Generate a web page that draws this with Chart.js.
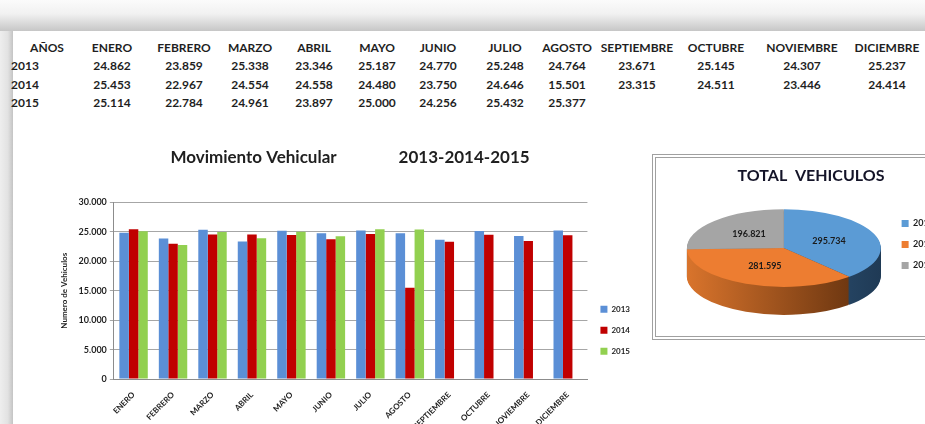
<!DOCTYPE html>
<html>
<head>
<meta charset="utf-8">
<script src="https://cdn.jsdelivr.net/npm/chart.js@4.4.1/dist/chart.umd.min.js"></script>
<style>
  html, body { margin:0; }
  body { width:925px; height:424px; overflow:hidden; background:#fff; position:relative; font-family:Lato, "Liberation Sans", sans-serif; }
  #frameTop { position:absolute; left:0; top:0; width:925px; height:31px;
    background:linear-gradient(to bottom,#fbfbfb 0%,#f1f1f1 45%,#d6d6d6 80%,#c6c6c6 100%); }
  #frameLeft { position:absolute; left:0; top:31px; width:13px; height:393px;
    background:linear-gradient(to right,#eeeeee 0%,#e2e2e2 60%,#c4c4c4 100%); }
  .cell { position:absolute; font-size:12px; font-weight:bold; color:#1f1f1f; white-space:nowrap; transform:translate(-50%,-50%); }
  .yr { transform:translate(0,-50%); }
  #barBox { position:absolute; left:40px; top:130px; width:600px; height:304px; }
  #pieFrame { position:absolute; left:652px; top:154px; width:400px; height:186px;
    border-top:4px double #a0a0a0; border-left:4px double #a0a0a0; border-bottom:4px double #a0a0a0;
    box-sizing:border-box; background:#fff; }
  #pieBox { position:absolute; left:656px; top:158px; width:288px; height:179px; }
</style>
</head>
<body>
<div id="frameTop"></div>
<div id="frameLeft"></div>
<div id="table"></div>
<div id="barBox"><canvas id="barChart"></canvas></div>
<div id="pieFrame"></div>
<div id="pieBox"><canvas id="pieChart"></canvas></div>

<script>
// datos
var meses = ['ENERO','FEBRERO','MARZO','ABRIL','MAYO','JUNIO','JULIO','AGOSTO','SEPTIEMBRE','OCTUBRE','NOVIEMBRE','DICIEMBRE'];
var anios = ['2013','2014','2015'];
var datos2013 = [24862,23859,25338,23346,25187,24770,25248,24764,23671,25145,24307,25237];
var datos2014 = [25453,22967,24554,24558,24480,23750,24646,15501,23315,24511,23446,24414];
var datos2015 = [25114,22784,24961,23897,25000,24256,25432,25377,null,null,null,null];
var totales = [295734,281595,196821];

// formato 24.862
var fmt = function(v){ return String(v).replace(/\B(?=(\d{3})+(?!\d))/g, '.'); };

// tabla de arriba
var colX = [112,184,250,314,377,438,505,567,637,716,802,887];
var rowY = [47,65,84,102];
var tabla = document.getElementById('table');
var addCell = function(txt, x, y, cls){
  var d = document.createElement('div');
  d.className = 'cell' + (cls ? ' ' + cls : '');
  d.textContent = txt;
  d.style.left = x + 'px';
  d.style.top = y + 'px';
  tabla.appendChild(d);
};
addCell('AÑOS', 47, rowY[0]);
meses.forEach(function(m, i){ addCell(m, colX[i], rowY[0]); });
[datos2013, datos2014, datos2015].forEach(function(serie, r){
  addCell(anios[r], 11, rowY[r+1], 'yr');
  serie.forEach(function(v, i){ if (v !== null) addCell(fmt(v), colX[i], rowY[r+1]); });
});

var fuente = 'Lato, "Liberation Sans", sans-serif';

// grafico de barras
const barChartId = document.getElementById('barChart');
new Chart(barChartId, {
  type: 'bar',
  data: {
    labels: meses,
    datasets: [
      { label: anios[0], data: datos2013, backgroundColor: '#5b8fd6' },
      { label: anios[1], data: datos2014, backgroundColor: '#c00000' },
      { label: anios[2], data: datos2015, backgroundColor: '#92d050' }
    ]
  },
  options: {
    responsive: true,
    maintainAspectRatio: false,
    animation: false,
    layout: { padding: { left: 20, right: 0, top: 0, bottom: 0 } },
    datasets: { bar: { categoryPercentage: 0.72, barPercentage: 1 } },
    plugins: {
      title: {
        display: true,
        text: 'Movimiento Vehicular               2013-2014-2015',
        color: '#1f1f1f',
        font: { family: fuente, size: 17, weight: 'bold' },
        padding: { top: 17, bottom: 35 }
      },
      legend: {
        position: 'right',
        title: { display: true, text: '', padding: { top: 82, bottom: 0 } },
        labels: {
          boxWidth: 7, boxHeight: 7, padding: 13, color: '#1f1f1f',
          font: { family: fuente, size: 8, weight: 'bold' }
        }
      },
      tooltip: { enabled: false }
    },
    scales: {
      x: {
        grid: { display: false },
        border: { display: true, color: '#8c8c8c' },
        ticks: { maxRotation: 45, minRotation: 45, color: '#1f1f1f', autoSkip: false,
          font: { family: fuente, size: 8, weight: 'bold' } }
      },
      y: {
        min: 0, max: 30000,
        grid: { color: '#a6a6a6', tickLength: 4 },
        border: { display: true, color: '#8c8c8c' },
        ticks: { stepSize: 5000, color: '#1f1f1f', callback: function(v){ return fmt(v); },
          font: { family: fuente, size: 9, weight: 'bold' } },
        title: { display: true, text: 'Numero de Vehiculos', color: '#1f1f1f',
          font: { family: fuente, size: 8, weight: 'bold' }, padding: { top: 0, bottom: 6 } }
      }
    }
  }
});

// torta 3D
var TILT = 0.4;
var DEPTH = 28;
var coloresTorta = ['#5b9bd5','#ed7d31','#a5a5a5'];

var sideFill = function(ctx, x0, x1, a, b){
  var g = ctx.createLinearGradient(x0, 0, x1, 0);
  g.addColorStop(0, a);
  g.addColorStop(1, b);
  return g;
};

var pie3d = {
  id: 'pie3d',
  beforeDatasetsDraw: function(chart){
    var arcs = chart.getDatasetMeta(0).data;
    if (!arcs.length) return;
    var ctx = chart.ctx, cx = arcs[0].x, cy = arcs[0].y, r = arcs[0].outerRadius;
    var lados = [
      sideFill(ctx, cx - r, cx + r, '#3f6f9c', '#1f3a55'),
      sideFill(ctx, cx - r, cx + r, '#d9742c', '#5a2c0c'),
      sideFill(ctx, cx - r, cx + r, '#8a8a8a', '#555555')
    ];
    for (var d = DEPTH; d > 0; d--) {
      ctx.save();
      ctx.translate(0, d - DEPTH / 2);
      ctx.translate(cx, cy); ctx.scale(1, TILT); ctx.translate(-cx, -cy);
      arcs.forEach(function(a, i){
        var guardado = a.options;
        a.options = Object.assign({}, guardado, { backgroundColor: lados[i], borderWidth: 0 });
        a.draw(ctx);
        a.options = guardado;
      });
      ctx.restore();
    }
    ctx.save();
    ctx.translate(0, -DEPTH / 2);
    ctx.translate(cx, cy); ctx.scale(1, TILT); ctx.translate(-cx, -cy);
  },
  afterDatasetsDraw: function(chart){
    var arcs = chart.getDatasetMeta(0).data;
    if (!arcs.length) return;
    var ctx = chart.ctx;
    ctx.restore();
    var cx = arcs[0].x, cy = arcs[0].y;
    ctx.save();
    ctx.font = 'bold 9px ' + fuente;
    ctx.fillStyle = '#1a1a1a';
    ctx.textAlign = 'center';
    ctx.textBaseline = 'middle';
    arcs.forEach(function(a, i){
      var p = a.tooltipPosition();
      ctx.fillText(fmt(totales[i]), p.x, cy + (p.y - cy) * TILT - DEPTH / 2);
    });
    ctx.restore();
  }
};

const pieChartId = document.getElementById('pieChart');
new Chart(pieChartId, {
  type: 'pie',
  data: {
    labels: anios,
    datasets: [{ data: totales, backgroundColor: coloresTorta, borderWidth: 0, radius: 97 }]
  },
  options: {
    responsive: true,
    maintainAspectRatio: false,
    animation: false,
    layout: { padding: { left: 22, right: 0, top: 0, bottom: 6 } },
    plugins: {
      title: {
        display: true,
        text: 'TOTAL  VEHICULOS',
        color: '#141428',
        font: { family: fuente, size: 16, weight: 'bold' },
        padding: { top: 8, bottom: 8 }
      },
      legend: {
        position: 'right',
        labels: {
          boxWidth: 7, boxHeight: 7, padding: 12, color: '#1f1f1f',
          font: { family: fuente, size: 9, weight: 'bold' }
        }
      },
      tooltip: { enabled: false }
    }
  },
  plugins: [pie3d]
});
</script>
</body>
</html>
